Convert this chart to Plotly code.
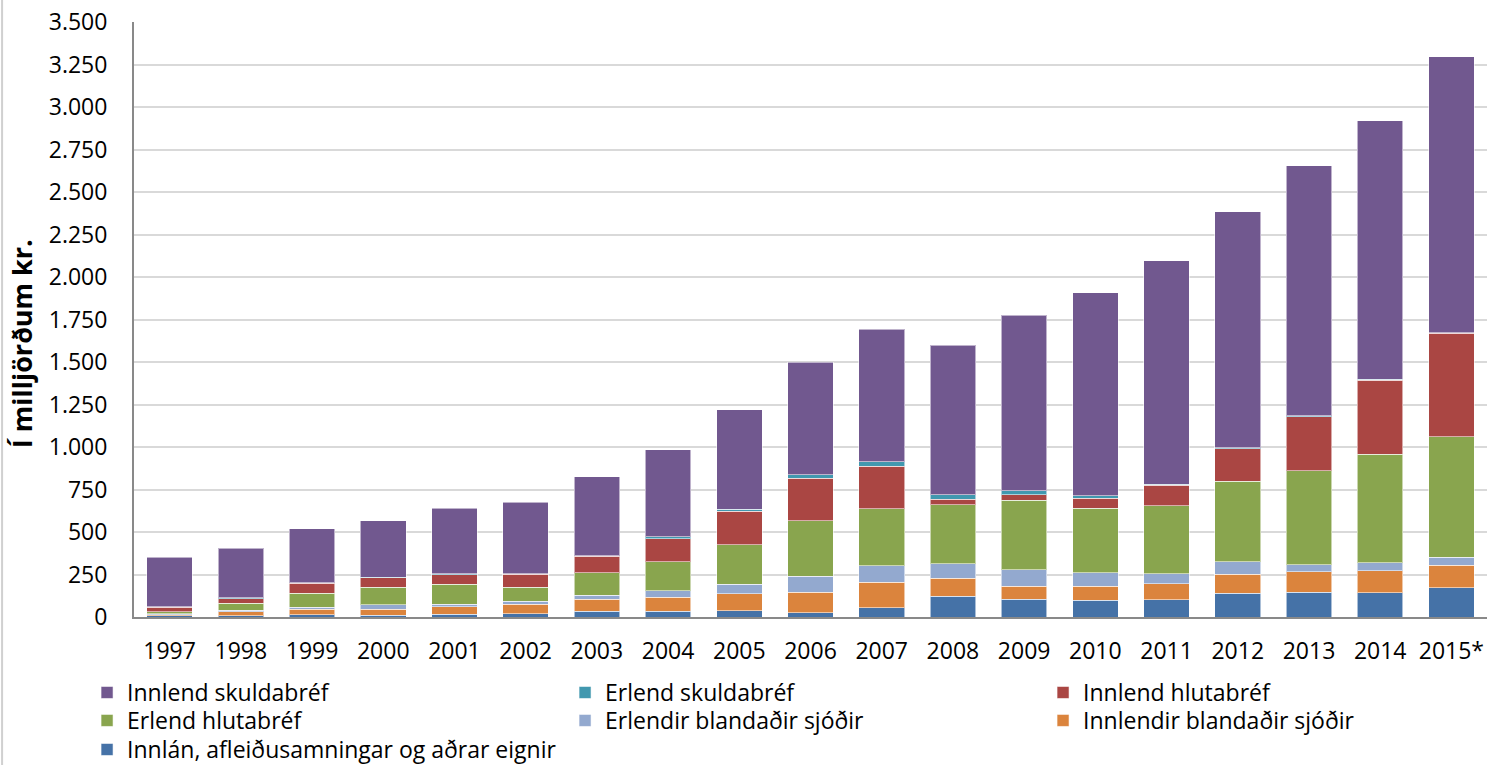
import plotly.graph_objects as go

years = ["1997", "1998", "1999", "2000", "2001", "2002", "2003", "2004", "2005", "2006",
         "2007", "2008", "2009", "2010", "2011", "2012", "2013", "2014", "2015*"]

# stacked from the bottom up
innlan = [6, 8, 12, 10, 16, 19, 33, 33, 37, 24, 55, 122, 104, 98, 102, 139, 147, 143, 171]
innl_bland = [6, 23, 35, 37, 45, 56, 71, 83, 100, 121, 149, 105, 76, 84, 94, 112, 120, 130, 133]
erl_bland = [8, 10, 10, 24, 15, 17, 23, 39, 57, 96, 98, 85, 98, 77, 59, 73, 41, 47, 47]
erl_hluta = [10, 39, 84, 104, 116, 84, 132, 171, 232, 326, 335, 349, 410, 380, 398, 476, 551, 637, 708]
innl_hluta = [28, 26, 57, 55, 56, 75, 98, 133, 196, 249, 249, 31, 32, 59, 122, 190, 319, 435, 610]
erl_skulda = [3, 6, 3, 5, 5, 2, 4, 12, 13, 21, 26, 28, 23, 14, 7, 6, 6, 8, 2]
innl_skulda = [290, 292, 318, 330, 388, 423, 463, 513, 585, 661, 782, 878, 1032, 1195, 1314, 1388, 1471, 1519, 1625]

# name, values, colour, legend row
series = [
    ("Innlán, afleiðusamningar og aðrar eignir", innlan, "#4572A7", "legend3"),
    ("Innlendir blandaðir sjóðir", innl_bland, "#DB843D", "legend2"),
    ("Erlendir blandaðir sjóðir", erl_bland, "#93A9CF", "legend2"),
    ("Erlend hlutabréf", erl_hluta, "#89A54E", "legend2"),
    ("Innlend hlutabréf", innl_hluta, "#AA4643", "legend"),
    ("Erlend skuldabréf", erl_skulda, "#4198AF", "legend"),
    ("Innlend skuldabréf", innl_skulda, "#71588F", "legend"),
]

y_ticks = list(range(0, 3501, 250))
y_labels = [f"{v:,}".replace(",", ".") for v in y_ticks]

fig = go.Figure()
for name, vals, color, leg in series:
    fig.add_trace(go.Bar(x=years, y=vals, name=name, legend=leg,
                         marker=dict(color=color, line=dict(color="rgba(255,255,255,0.55)", width=1))))

font = "Open Sans"


def legend_row(y):
    return dict(orientation="h", traceorder="reversed", x=-0.0347, y=y, xanchor="left", yanchor="top",
                entrywidth=433, entrywidthmode="pixels", font=dict(size=23), bgcolor="rgba(0,0,0,0)")


fig.update_layout(
    barmode="stack",
    bargap=0.36,
    width=1487, height=765,
    margin=dict(l=134, r=0, t=22, b=148, autoexpand=False),
    plot_bgcolor="white", paper_bgcolor="white",
    font=dict(family=font, size=23, color="black"),
    showlegend=True,
    legend=legend_row(-0.0908),
    legend2=legend_row(-0.1378),
    legend3=legend_row(-0.1866),
)
fig.update_xaxes(showline=True, linecolor="#898989", linewidth=2, ticks="", tickfont=dict(size=23),
                 ticklabelstandoff=12, automargin=False)
fig.update_yaxes(range=[0, 3500], tickvals=y_ticks, ticktext=y_labels, showgrid=True,
                 gridcolor="#d9d9d9", gridwidth=2, showline=True, linecolor="#898989", linewidth=2,
                 zeroline=False, tickfont=dict(size=23), ticklabelstandoff=20, automargin=False)

fig.add_annotation(text="<b>Í milljörðum kr.</b>", textangle=-90, xref="paper", yref="paper",
                   x=-0.0825, y=0.459, xanchor="center", yanchor="middle",
                   showarrow=False, font=dict(size=27))
fig.add_shape(type="line", xref="paper", yref="paper", x0=-0.0975, x1=-0.0975, y0=-0.26, y1=1.04,
              line=dict(color="#d0d0d0", width=2))

# page body has a default margin; drop it so the figure sits at the window's corner
fig.write_html("out.html", config={"displayModeBar": False},
               post_script="document.body.style.margin='0';document.body.style.overflow='hidden';")
